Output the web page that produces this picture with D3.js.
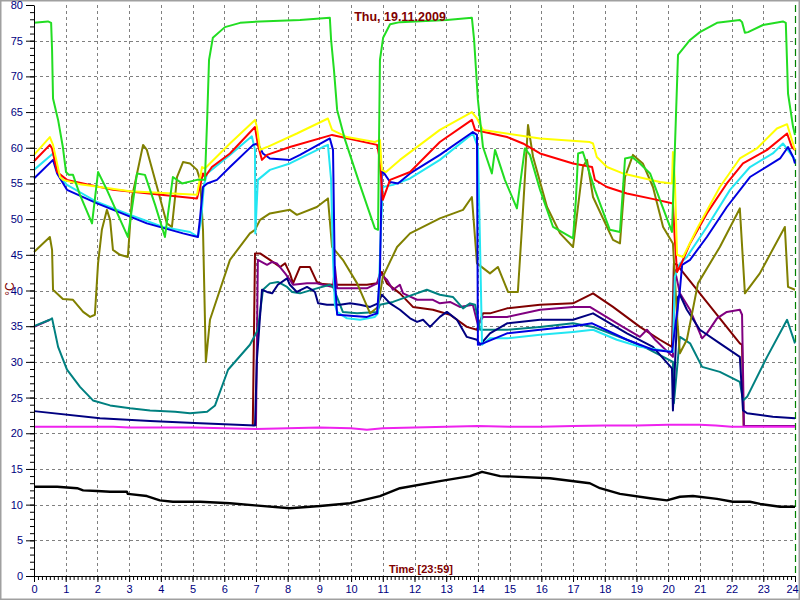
<!DOCTYPE html>
<html><head><meta charset="utf-8">
<script src="https://cdn.jsdelivr.net/npm/d3@7"></script>
<style>html,body{margin:0;padding:0;background:#fff;}svg{display:block;}</style>
</head><body>
<script>
// ---- DATA (hour, °C) ----
const title = "Thu, 19.11.2009";
const xLabel = "Time [23:59]";
const yLabel = "°C";
const hourTicks = d3.range(0, 25);
const tempTicks = d3.range(0, 81, 5);

const green = [[0,77.5],[0.44,77.7],[0.54,77.5],[0.57,73.7],[0.6,66.9],[0.76,63.9],[0.91,60.1],[1.01,56.6],[1.1,56.2],[1.23,56.2],[1.45,53.4],[1.83,49.4],[2.02,56.6],[2.3,54.1],[2.65,50.6],[2.96,47.5],[3.25,56.4],[3.5,56.2],[3.82,52.0],[4.13,47.5],[4.38,55.9],[4.67,55.0],[5.14,55.5],[5.39,55.5],[5.46,63.9],[5.52,72.3],[5.64,75.4],[6.02,76.9],[6.5,77.5],[7.13,77.7],[8.39,77.9],[9.33,78.2],[9.37,75.1],[9.46,70.9],[9.56,65.3],[9.81,61.1],[10.28,54.8],[10.75,48.7],[10.85,48.5],[10.91,72.3],[11.01,75.4],[11.23,77.3],[11.54,77.6],[13.02,77.9],[13.81,78.2],[13.88,75.1],[14.0,66.7],[14.16,60.1],[14.44,56.4],[14.54,59.7],[14.85,55.5],[15.23,51.5],[15.48,59.9],[15.64,59.0],[15.96,54.1],[16.37,48.9],[17.0,47.3],[17.09,52.7],[17.16,59.2],[17.31,59.4],[17.69,54.1],[18.16,48.5],[18.48,48.2],[18.64,58.5],[18.86,58.7],[19.11,57.8],[19.43,56.4],[19.74,52.7],[20.12,48.2],[20.21,59.7],[20.31,73.0],[20.69,75.1],[21.0,76.2],[21.54,77.5],[22.26,77.9],[22.33,77.6],[22.42,76.1],[22.52,76.2],[22.99,77.2],[23.62,77.7],[23.71,77.5],[23.78,67.6],[23.94,62.9],[24.0,61.8]];

const yellow = [[0,59.0],[0.5,61.5],[0.6,60.4],[0.82,55.9],[0.91,55.5],[1.45,54.9],[3.03,53.9],[5.14,53.4],[5.3,57.3],[5.39,57.1],[6.18,60.6],[6.97,63.9],[7.03,62.9],[7.13,59.7],[7.35,60.1],[8.29,62.0],[9.27,64.1],[9.4,62.5],[9.87,61.5],[10.75,60.8],[10.91,61.1],[10.97,56.9],[11.1,56.6],[11.54,58.3],[12.8,62.5],[13.81,65.0],[13.97,64.1],[14.16,62.5],[15.96,61.3],[17.53,60.8],[17.63,60.6],[17.75,58.7],[18.07,57.3],[18.57,56.4],[19.74,55.2],[20.12,55.0],[20.15,59.4],[20.21,55.5],[20.28,45.0],[20.47,44.7],[20.94,48.9],[21.63,54.5],[22.26,58.5],[22.8,59.9],[23.43,62.7],[23.75,63.3],[23.84,62.0],[24.0,59.7]];

const red = [[0,58.1],[0.5,60.4],[0.57,59.9],[0.73,56.6],[1.04,55.5],[2.49,54.1],[5.14,52.9],[5.33,56.4],[5.39,55.9],[5.61,57.3],[6.18,59.2],[6.97,62.9],[7.06,60.4],[7.19,58.3],[7.35,59.0],[8.07,60.1],[9.4,61.8],[10.82,60.4],[10.88,59.0],[10.94,56.2],[11.0,52.7],[11.23,55.5],[11.86,56.6],[12.8,60.8],[13.81,63.9],[13.91,62.5],[14.92,61.5],[15.42,60.6],[15.96,59.2],[17.0,57.8],[17.6,57.3],[17.69,55.5],[18.07,54.5],[18.7,53.6],[19.65,52.7],[20.15,52.2],[20.21,47.1],[20.28,42.6],[20.44,44.0],[20.69,46.6],[21.22,50.8],[21.85,55.0],[22.36,57.8],[23.12,59.7],[23.75,62.0],[23.9,60.1],[24.0,59.7]];

const cyan = [[0,56.9],[0.6,59.2],[0.82,55.9],[1.04,54.8],[1.99,52.4],[3.03,50.6],[4.07,48.9],[4.92,48.2],[5.17,47.5],[5.27,49.9],[5.36,54.8],[5.46,56.4],[6.18,59.0],[6.87,61.6],[6.97,59.7],[6.98,48.0],[7.06,55.5],[7.44,56.9],[8.07,57.8],[9.11,60.1],[9.27,60.4],[9.37,55.5],[9.43,44.3],[9.49,38.0],[9.56,37.0],[9.87,36.1],[10.28,35.9],[10.75,36.3],[10.85,36.8],[10.94,48.5],[11.0,54.5],[11.32,54.8],[11.86,55.7],[12.8,58.3],[13.84,62.0],[14.0,60.1],[14.07,45.7],[14.13,32.4],[14.38,33.3],[14.92,33.3],[15.96,33.8],[17.0,34.2],[17.63,34.5],[18.38,33.1],[19.11,32.1],[20.15,31.4],[20.21,41.9],[20.37,43.8],[20.59,44.7],[21.22,48.9],[21.95,54.1],[22.58,57.3],[23.3,59.2],[23.62,60.6],[23.94,58.7],[24.0,58.3]];

const blue = [[0,55.7],[0.6,58.3],[0.73,56.4],[1.04,54.1],[1.99,52.2],[3.56,49.4],[4.7,48.0],[5.17,47.5],[5.24,50.3],[5.33,54.5],[5.46,55.0],[5.77,55.5],[6.18,57.3],[6.91,60.4],[7.06,60.6],[7.22,59.2],[7.44,58.5],[8.07,58.3],[8.39,59.0],[9.33,61.3],[9.43,59.7],[9.49,41.5],[9.56,36.6],[10.5,36.3],[10.82,36.8],[10.91,42.4],[10.97,56.9],[11.23,55.2],[11.48,55.0],[11.86,56.4],[12.8,59.0],[13.84,62.2],[13.97,61.8],[14.0,32.4],[14.16,32.6],[14.92,34.0],[15.96,34.5],[17.0,35.0],[17.6,35.4],[18.7,33.1],[19.52,31.7],[20.12,31.4],[20.37,40.1],[20.44,43.6],[20.69,44.3],[21.22,47.5],[21.85,51.7],[22.58,55.9],[23.53,58.5],[23.78,60.1],[23.94,58.7],[24.0,57.8]];

const olive = [[0,45.4],[0.5,47.5],[0.57,45.7],[0.6,40.1],[0.91,38.8],[1.23,38.7],[1.55,37.0],[1.77,36.3],[1.92,36.6],[2.02,43.8],[2.14,48.5],[2.3,51.3],[2.4,49.9],[2.49,45.7],[2.71,45.0],[2.96,44.7],[3.09,53.1],[3.25,56.4],[3.44,60.4],[3.56,59.7],[3.88,54.5],[4.19,49.4],[4.35,48.9],[4.45,53.1],[4.51,55.9],[4.7,58.0],[4.92,57.8],[5.14,56.9],[5.24,55.5],[5.33,48.5],[5.42,30.0],[5.55,35.9],[6.18,44.3],[6.81,48.0],[6.97,48.5],[7.13,49.9],[7.44,50.8],[8.07,51.3],[8.29,50.6],[8.92,51.7],[9.27,52.9],[9.4,46.1],[9.74,44.3],[10.19,41.0],[10.6,36.8],[10.85,37.7],[11.0,41.9],[11.45,46.1],[11.86,48.0],[12.8,50.1],[13.53,51.3],[13.81,53.1],[13.97,43.8],[14.38,42.4],[14.63,43.3],[14.95,39.8],[15.26,39.8],[15.39,48.9],[15.58,63.2],[15.74,58.7],[16.18,51.7],[16.59,48.0],[17.0,46.1],[17.31,57.3],[17.44,58.3],[17.63,53.1],[18.26,47.1],[18.48,46.6],[18.64,55.9],[18.89,59.0],[19.2,57.8],[19.52,54.5],[19.84,48.9],[20.15,46.6],[20.28,36.3],[20.37,31.2],[20.59,33.1],[20.94,41.0],[21.63,46.1],[22.26,51.5],[22.42,39.6],[22.89,42.4],[23.68,48.9],[23.78,40.5],[24.0,40.1]];

const maroon = [[6.9,21.0],[6.97,45.2],[7.13,45.2],[7.44,44.3],[7.76,43.3],[7.92,43.8],[8.07,42.4],[8.17,41.0],[8.39,43.3],[8.7,43.3],[8.92,41.2],[9.11,40.9],[9.43,40.8],[10.5,40.8],[10.82,41.0],[10.97,42.6],[11.13,41.0],[11.54,39.6],[11.95,37.7],[12.58,37.3],[13.12,36.6],[13.65,34.9],[13.97,34.5],[14.16,36.8],[14.38,36.8],[14.92,37.5],[15.96,38.0],[17.0,38.2],[17.63,39.6],[18.26,37.7],[19.11,34.9],[19.74,33.1],[20.12,32.1],[20.18,43.8],[20.28,43.6],[22.26,32.6],[22.33,32.4],[22.38,21.0],[24.0,21.0]];

const purple = [[0,34.9],[0.5,35.9],[0.55,null],[7.0,21.0],[7.06,44.3],[7.35,43.6],[7.51,44.0],[7.66,43.8],[7.92,42.4],[8.07,41.5],[8.17,40.8],[8.61,41.0],[8.92,41.0],[9.11,40.8],[9.43,40.5],[9.49,43.3],[9.56,40.3],[10.5,40.3],[10.82,41.0],[10.91,42.4],[11.13,41.5],[11.32,40.1],[11.54,40.8],[11.64,39.6],[12.08,38.7],[12.58,38.7],[12.8,38.2],[13.12,38.4],[13.43,37.7],[13.84,38.0],[14.0,35.2],[14.16,36.3],[14.92,36.3],[15.96,37.3],[17.0,37.7],[17.53,37.7],[18.57,34.9],[19.11,33.5],[19.33,34.5],[19.59,33.1],[20.15,30.7],[20.21,42.9],[20.37,39.6],[20.69,37.3],[21.07,33.3],[21.22,34.0],[21.54,36.1],[21.85,37.0],[22.26,37.3],[22.33,36.6],[22.39,21.0],[24.0,21.0]];

const navy = [[0,23.1],[2.08,22.1],[3.66,21.7],[5.24,21.4],[6.97,21.1],[7.03,30.3],[7.19,40.1],[7.35,39.8],[7.51,39.6],[7.69,40.8],[7.98,41.7],[8.07,40.8],[8.29,39.8],[8.61,40.5],[8.77,40.1],[8.86,39.8],[8.96,38.2],[9.24,38.0],[9.65,38.0],[9.97,38.2],[10.28,38.0],[10.6,37.7],[10.85,38.2],[10.97,39.4],[11.23,38.2],[11.54,37.3],[11.86,36.1],[12.08,35.6],[12.27,35.9],[12.49,34.9],[12.8,36.3],[13.02,37.0],[13.34,35.9],[13.65,33.5],[13.97,33.1],[14.07,32.4],[14.38,34.0],[14.92,35.4],[15.96,35.9],[17.0,35.9],[17.63,36.8],[18.7,34.0],[19.52,32.1],[20.12,29.1],[20.15,23.2],[20.31,39.1],[20.37,39.4],[20.59,37.3],[21.0,34.5],[21.63,32.6],[22.26,30.7],[22.36,23.2],[22.49,22.8],[23.3,22.3],[24.0,22.1]];

const teal = [[0,35.0],[0.5,35.9],[0.57,36.1],[0.76,32.1],[1.04,28.9],[1.45,26.5],[1.86,24.6],[2.4,23.9],[3.03,23.5],[3.66,23.2],[4.45,23.0],[4.92,22.8],[5.46,23.0],[5.71,23.9],[6.12,28.9],[6.81,32.4],[7.06,34.5],[7.22,40.1],[7.44,41.0],[7.69,41.2],[7.98,40.5],[8.14,39.8],[8.39,39.6],[8.92,40.3],[9.33,40.8],[9.43,40.5],[9.74,37.0],[10.19,36.8],[10.82,37.0],[10.91,38.0],[11.32,38.4],[11.76,39.1],[12.39,40.1],[12.8,39.4],[13.21,39.1],[13.53,37.5],[13.75,38.2],[13.91,38.0],[14.07,34.5],[14.38,34.5],[14.92,34.5],[15.96,34.9],[17.0,35.4],[17.63,34.9],[18.7,33.1],[19.33,31.9],[20.15,30.0],[20.18,24.2],[20.37,33.5],[20.69,32.6],[21.07,29.3],[21.63,28.6],[22.26,27.2],[22.36,24.6],[22.49,25.1],[23.12,30.7],[23.75,35.9],[24.0,32.6]];

const magenta = [[0,20.9],[2.5,20.9],[3.0,20.8],[5.0,20.8],[7.0,20.6],[8.0,20.7],[9.0,20.8],[10.0,20.7],[10.5,20.5],[11.0,20.7],[12.0,20.8],[13.0,20.9],[14.0,21.0],[15.0,20.9],[16.0,20.9],[17.0,21.0],[18.0,21.1],[19.0,21.1],[20.0,21.2],[21.0,21.2],[21.5,21.1],[22.0,20.9],[23.0,20.9],[24.0,20.9]];

const black = [[0,12.5],[0.73,12.5],[1.36,12.3],[1.55,12.0],[1.99,11.9],[2.4,11.8],[2.93,11.8],[2.96,11.5],[3.56,11.2],[3.97,10.6],[4.38,10.4],[5.24,10.4],[6.18,10.2],[6.97,9.9],[8.07,9.5],[9.02,9.8],[9.97,10.2],[10.91,11.2],[11.54,12.3],[12.8,13.3],[13.75,14.0],[14.13,14.6],[14.7,14.0],[16.27,13.7],[17.53,13.0],[17.85,12.3],[18.48,11.5],[19.43,10.9],[19.96,10.6],[20.37,11.1],[20.78,11.2],[21.54,10.8],[22.04,10.4],[22.58,10.4],[22.9,10.1],[23.53,9.7],[24.0,9.7]];

const seriesOrder = [
  {data: maroon, color: "#800000"},
  {data: purple, color: "#800080"},
  {data: magenta, color: "#ee22ee"},
  {data: teal, color: "#008080"},
  {data: navy, color: "#000080"},
  {data: black, color: "#000000"},
  {data: olive, color: "#808000"},
  {data: cyan, color: "#22e6f2"},
  {data: blue, color: "#0000e0"},
  {data: red, color: "#ff0000"},
  {data: yellow, color: "#ffff00"},
  {data: green, color: "#22dd22"}
];

// ---- CHART ----
const W = 800, H = 600;
const svg = d3.select("body").append("svg").attr("width", W).attr("height", H);
svg.append("rect").attr("x",0.5).attr("y",0.5).attr("width",W-1).attr("height",H-1)
  .attr("fill","#fff").attr("stroke","#a0a0a0").attr("stroke-width",2);

const x = d3.scaleLinear().domain([0,24]).range([34,795]);
const y = d3.scaleLinear().domain([0,80]).range([576,5]);

const grid = svg.append("g").attr("stroke","#808080").attr("stroke-dasharray","3,3").attr("stroke-width",1);
grid.selectAll(".vg").data(hourTicks.filter(h=>h>0 && h<24)).join("line")
  .attr("x1",d=>Math.round(x(d))+0.5).attr("x2",d=>Math.round(x(d))+0.5)
  .attr("y1",y(80)).attr("y2",y(0));
grid.selectAll(".hg").data(tempTicks.filter(t=>t>0 && t<80)).join("line")
  .attr("y1",d=>Math.round(y(d))+0.5).attr("y2",d=>Math.round(y(d))+0.5)
  .attr("x1",x(0)).attr("x2",x(24));

// current time marker
svg.append("line").attr("x1",Math.round(x(24))+0.5).attr("x2",Math.round(x(24))+0.5)
  .attr("y1",y(80)).attr("y2",y(0)).attr("stroke","#008000").attr("stroke-width",1.2)
  .attr("stroke-dasharray","7,4");

// lines
const line = d3.line().defined(d=>d[1]!=null).x(d=>x(d[0])).y(d=>y(d[1]));
svg.append("g").selectAll("path").data(seriesOrder).join("path")
  .attr("d", d=>line(d.data)).attr("fill","none").attr("stroke",d=>d.color)
  .attr("stroke-width", d=>d.color==="#000000"?2.4:2).attr("stroke-linejoin","round");

// axes
const fontFam = "Arial, 'Liberation Sans', sans-serif";
const yMinor = svg.append("g").attr("transform",`translate(${x(0)},0)`)
  .call(d3.axisLeft(y).tickValues(d3.range(0,81,1)).tickSize(4).tickFormat(""));
yMinor.select(".domain").remove();
const yAxis = svg.append("g").attr("transform",`translate(${x(0)},0)`)
  .call(d3.axisLeft(y).tickValues(tempTicks).tickSize(8).tickPadding(3).tickSizeOuter(0));
const xMinor = svg.append("g").attr("transform",`translate(0,${y(0)})`)
  .call(d3.axisBottom(x).tickValues(d3.range(0,24.001,0.125)).tickSize(4).tickFormat(""));
xMinor.select(".domain").remove();
const xAxis = svg.append("g").attr("transform",`translate(0,${y(0)})`)
  .call(d3.axisBottom(x).tickValues(hourTicks).tickSize(6).tickPadding(3).tickSizeOuter(0));
[yAxis,xAxis].forEach(a=>{
  a.selectAll("text").attr("fill","#000080").style("font-family",fontFam).style("font-size","11px");
});
// keep the last hour label inside the frame
xAxis.selectAll(".tick text").filter(d=>d===24).attr("dx","-3");
svg.selectAll(".domain").attr("stroke","#000");
svg.selectAll(".tick line").attr("stroke","#000");

// texts
svg.append("text").attr("x",400).attr("y",21).attr("text-anchor","middle")
  .style("font-family",fontFam).style("font-size","12.5px").style("font-weight","bold")
  .attr("fill","#800000").text(title);
svg.append("text").attr("x",421).attr("y",573).attr("text-anchor","middle")
  .style("font-family",fontFam).style("font-size","11px").style("font-weight","bold")
  .attr("fill","#800000").text(xLabel);
svg.append("text").attr("transform","translate(14,289) rotate(-90)").attr("text-anchor","middle")
  .style("font-family",fontFam).style("font-size","12px")
  .attr("fill","#800000").text(yLabel);
</script>
</body></html>
